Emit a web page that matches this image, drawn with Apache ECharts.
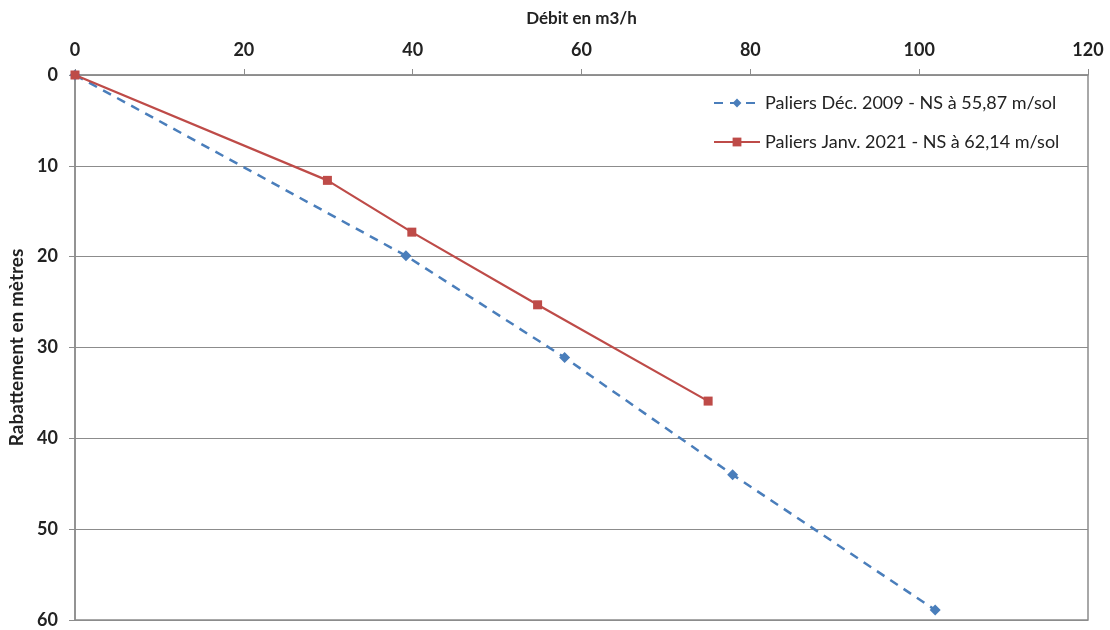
<!DOCTYPE html>
<html>
<head>
<meta charset="utf-8">
<script src="https://cdn.jsdelivr.net/npm/echarts@6/dist/echarts.min.js"></script>
<style>html,body{margin:0;padding:0;background:#fff}#c{width:1110px;height:630px}</style>
</head>
<body>
<div id="c"></div>
<script>
const xTicks = [0, 20, 40, 60, 80, 100, 120];
const yTicks = [0, 10, 20, 30, 40, 50, 60];
const seriesNames = ["Paliers Déc. 2009 - NS à 55,87 m/sol", "Paliers Janv. 2021 - NS à 62,14 m/sol"];
const debit2009 = [0, 39.2, 58.0, 77.9, 101.9];
const rabat2009 = [0, 19.9, 31.1, 44.0, 58.9];
const debit2021 = [0, 29.9, 39.9, 54.8, 75.0];
const rabat2021 = [0, 11.6, 17.3, 25.3, 35.9];

const pairs = (xs, ys) => xs.map((x, i) => [x, ys[i]]);
const font = 'Lato, "Open Sans", sans-serif';

const chart = echarts.init(document.getElementById('c'), null, {renderer: 'canvas'});
chart.setOption({
  animation: false,
  backgroundColor: '#fff',
  grid: {left: 75, top: 75, right: 22, bottom: 10, containLabel: false, outerBoundsMode: 'none',
         show: true, borderColor: '#8c8c8c', borderWidth: 1.5, backgroundColor: 'transparent'},
  xAxis: {
    type: 'value', position: 'top', min: xTicks[0], max: xTicks[xTicks.length - 1], interval: 20,
    name: 'Débit en m3/h', nameLocation: 'middle', nameGap: 48,
    nameTextStyle: {fontFamily: font, fontWeight: 'bold', fontSize: 17, color: '#222'},
    axisLine: {show: true, lineStyle: {color: '#8c8c8c', width: 1.5}},
    axisTick: {show: true, inside: false, length: 6, lineStyle: {color: '#8c8c8c'}},
    axisLabel: {fontFamily: font, fontWeight: 'bold', fontSize: 18, color: '#222', margin: 16},
    splitLine: {show: false}
  },
  yAxis: {
    type: 'value', inverse: true, min: yTicks[0], max: yTicks[yTicks.length - 1], interval: 10,
    name: 'Rabattement en mètres', nameLocation: 'middle', nameGap: 47, nameRotate: 90,
    nameTextStyle: {fontFamily: font, fontWeight: 'bold', fontSize: 19, color: '#222'},
    axisLine: {show: true, lineStyle: {color: '#8c8c8c', width: 1.5}},
    axisTick: {show: true, inside: false, length: 6, lineStyle: {color: '#8c8c8c'}},
    axisLabel: {fontFamily: font, fontWeight: 'bold', fontSize: 18, color: '#222', margin: 17},
    splitLine: {show: true, lineStyle: {color: '#8c8c8c', width: 1.2}}
  },
  legend: {
    orient: 'vertical', left: 713, top: 94,
    padding: 0, itemGap: 21, itemWidth: 46, itemHeight: 11,
    textStyle: {fontFamily: font, fontSize: 18, color: '#222'},
    data: seriesNames
  },
  series: [
    {
      name: seriesNames[0], type: 'line', data: pairs(debit2009, rabat2009),
      symbol: 'diamond', symbolSize: 11, color: '#4a7ebb',
      lineStyle: {color: '#4a7ebb', width: 2.5, type: [9, 7]},
      itemStyle: {color: '#4a7ebb'}, z: 2
    },
    {
      name: seriesNames[1], type: 'line', data: pairs(debit2021, rabat2021),
      symbol: 'rect', symbolSize: 9, color: '#be4b48',
      lineStyle: {color: '#be4b48', width: 2.2, type: 'solid'},
      itemStyle: {color: '#be4b48'}, z: 3
    }
  ]
});
</script>
</body>
</html>
